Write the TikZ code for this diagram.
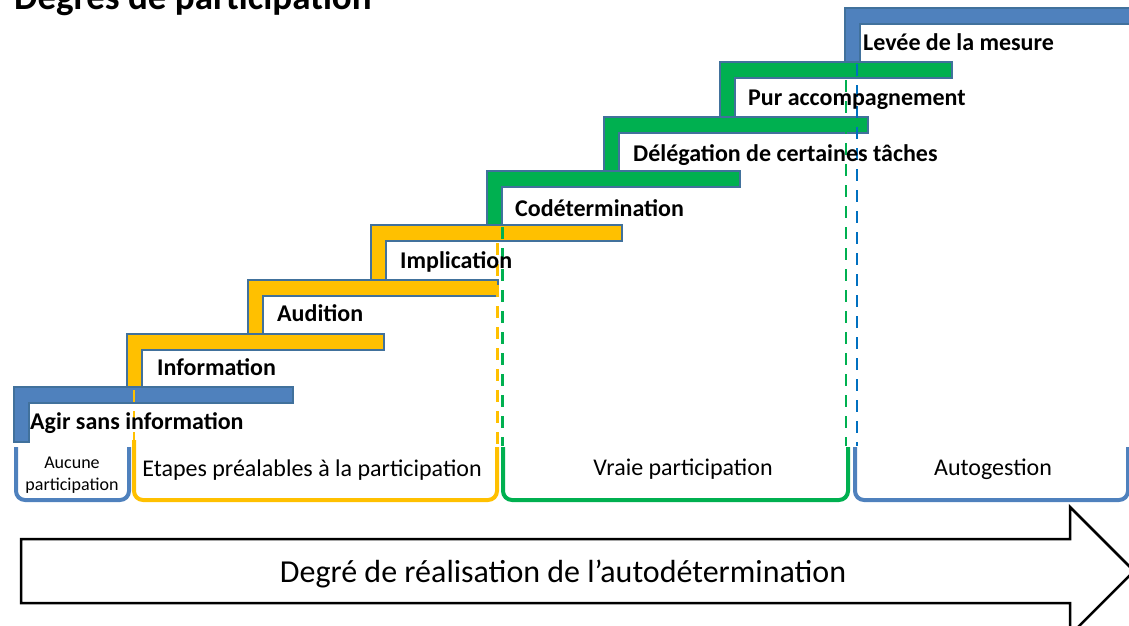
\documentclass[tikz,border=0pt]{standalone}
\usepackage{fontspec}
\setmainfont{Carlito}
\definecolor{stepblue}{HTML}{4F81BD}
\definecolor{stepedge}{HTML}{41719C}
\definecolor{stepyellow}{HTML}{FFC000}
\definecolor{stepgreen}{HTML}{00B050}
\definecolor{guideblue}{HTML}{0070C0}
\tikzset{
 stair/.style={draw=stepedge,line width=1.5pt},
 phase/.style={line width=4pt,rounded corners=9pt},
 guide/.style={line width=2.5pt,dash pattern=on 12pt off 9pt},
 steptext/.style={anchor=base west,inner sep=0pt,font=\fontsize{24}{28}\selectfont\bfseries},
 phasetext/.style={anchor=base,inner sep=0pt,font=\fontsize{24}{28}\selectfont}
}
\begin{document}
\begin{tikzpicture}[x=1pt,y=-1pt]
 \useasboundingbox (0,0) rectangle (1129,626);
 \node[anchor=base west,inner sep=0pt,font=\fontsize{37}{44}\selectfont\bfseries] (title) at (14,10) {Degrés de participation};
 \draw[phase,stepblue] (16,447)--(16,500)--(129,500)--(129,447);
 \draw[phase,stepyellow] (134,440)--(134,500)--(497,500)--(497,447);
 \draw[phase,stepgreen] (503,447)--(503,500)--(848,500)--(848,447);
 \draw[phase,stepblue] (855,447)--(855,500)--(1128,500)--(1128,447);
 \node[inner sep=0pt,align=center,font=\fontsize{18}{22}\selectfont] (aucune) at (72,475) {Aucune\\participation};
 \node[phasetext] (etapes) at (312,476) {Etapes préalables à la participation};
 \node[phasetext] (vraie) at (683,475) {Vraie participation};
 \node[phasetext] (autog) at (993,475) {Autogestion};
 \draw[stair,fill=stepblue] (14,387)--(293,387)--(293,403)--(29,403)--(29,442)--(14,442)--cycle;
 \draw[stair,fill=stepyellow] (127,334)--(384,334)--(384,350)--(142,350)--(142,387)--(127,387)--cycle;
 \draw[stair,fill=stepyellow] (248,280)--(498,280)--(498,296)--(263,296)--(263,334)--(248,334)--cycle;
 \draw[stair,fill=stepyellow] (371,225)--(622,225)--(622,241)--(386,241)--(386,280)--(371,280)--cycle;
 \draw[stair,fill=stepgreen] (487,171)--(740,171)--(740,187)--(502,187)--(502,225)--(487,225)--cycle;
 \draw[stair,fill=stepgreen] (604,117)--(868,117)--(868,133)--(619,133)--(619,171)--(604,171)--cycle;
 \draw[stair,fill=stepgreen] (720,62)--(952,62)--(952,78)--(735,78)--(735,117)--(720,117)--cycle;
 \draw[stair,fill=stepblue] (845,8)--(1140,8)--(1140,24)--(860,24)--(860,62)--(845,62)--cycle;
 \draw[guide,stepyellow] (134,390)--(134,446);
 \draw[guide,stepyellow] (497.5,243)--(497.5,446);
 \draw[guide,stepgreen] (502.5,227)--(502.5,446);
 \draw[guide,stepgreen] (846,80)--(846,446);
 \draw[guide,guideblue] (857,64)--(857,446);
 \node[steptext] (agir) at (30,429) {Agir sans information};
 \node[steptext] (info) at (157,375) {Information};
 \node[steptext] (audit) at (277,321) {Audition};
 \node[steptext] (impl) at (400,268) {Implication};
 \node[steptext] (codet) at (515,216) {Codétermination};
 \node[steptext] (deleg) at (633,161) {Délégation de certaines tâches};
 \node[steptext] (pur) at (748,105) {Pur accompagnement};
 \node[steptext] (levee) at (863,51) {Levée de la mesure};
 \draw[line width=2.5pt,fill=white] (21,539)--(1070,539)--(1070,507)--(1134,571)--(1070,635)--(1070,603)--(21,603)--cycle;
 \node[anchor=base,inner sep=0pt,font=\fontsize{32}{38}\selectfont] (degre) at (563,582) {Degré de réalisation de l’autodétermination};
\end{tikzpicture}
\end{document}
